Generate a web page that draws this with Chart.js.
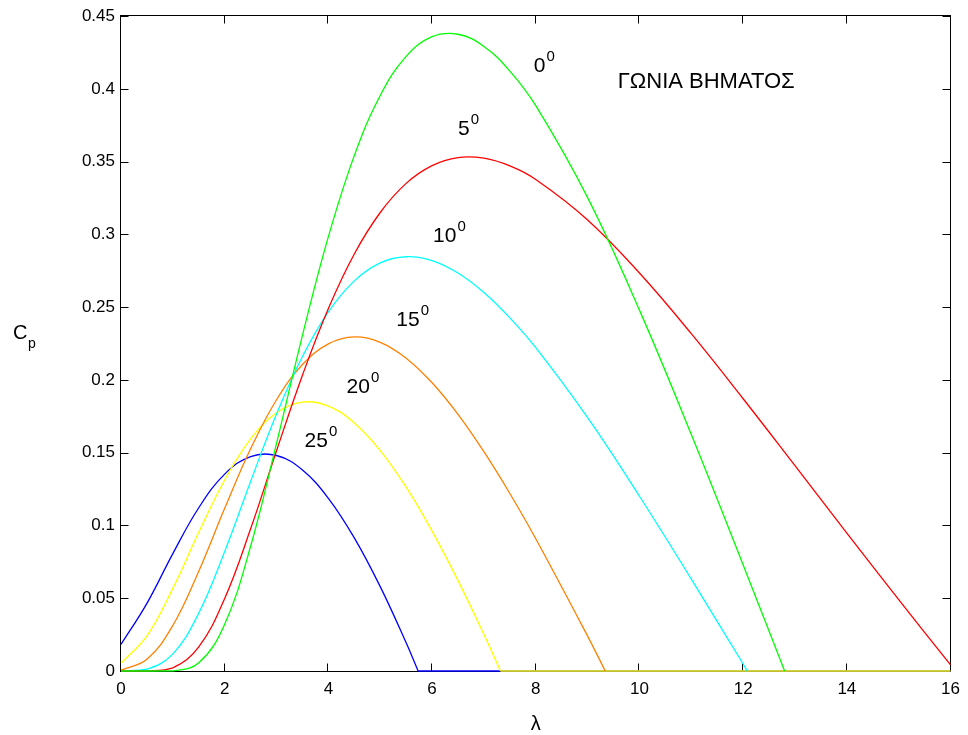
<!DOCTYPE html>
<html>
<head>
<meta charset="utf-8">
<title>Cp - λ</title>
<script src="https://cdn.jsdelivr.net/npm/chart.js@4.4.1/dist/chart.umd.min.js"></script>
<style>
  html, body { margin: 0; padding: 0; background: #fff; }
  canvas { display: block; }
</style>
</head>
<body>
<canvas id="cpChart" width="968" height="735"></canvas>
<script>
// tip speed ratio grid (λ), shared by every pitch angle
const lambdaGrid = [0, 0.5, 1, 1.5, 2, 2.5, 3, 3.5, 4, 4.5, 5, 5.5, 6, 6.5, 7, 7.5, 8, 9, 10, 11, 12, 13, 14, 15, 16];

// Cp (arrays stop before the curve reaches zero)
const cp0  = [0, 0, 0.0001, 0.0056, 0.0322, 0.0857, 0.1564, 0.2307, 0.2985, 0.3542, 0.3955, 0.4224, 0.4359, 0.4376, 0.4292, 0.4123, 0.3885, 0.3253, 0.2480, 0.1625, 0.0729];
const cp5  = [0, 0, 0.0022, 0.0166, 0.0499, 0.0977, 0.1514, 0.2033, 0.2491, 0.2866, 0.3151, 0.3351, 0.3473, 0.3528, 0.3524, 0.3471, 0.3378, 0.3100, 0.2735, 0.2318, 0.1871, 0.1411, 0.0948, 0.0490, 0.0042];
const cp10 = [0, 0.0012, 0.0118, 0.0398, 0.0822, 0.1303, 0.1766, 0.2161, 0.2468, 0.2681, 0.2805, 0.2847, 0.2821, 0.2735, 0.2601, 0.2427, 0.2222, 0.1741, 0.1201, 0.0631, 0.0048];
const cp15 = [0.0006, 0.0081, 0.0313, 0.0686, 0.1118, 0.1527, 0.1864, 0.2106, 0.2248, 0.2296, 0.2259, 0.2150, 0.1981, 0.1764, 0.1507, 0.1220, 0.0909, 0.0240];
const cp20 = [0.0053, 0.0242, 0.0568, 0.0953, 0.1313, 0.1595, 0.1775, 0.1848, 0.1821, 0.1705, 0.1515, 0.1263, 0.0961, 0.0621, 0.0251];
const cp25 = [0.0183, 0.0465, 0.0807, 0.1122, 0.1353, 0.1474, 0.1481, 0.1381, 0.1187, 0.0915, 0.0580, 0.0194];

// λ where each curve hits Cp = 0 (null = still above zero at λ = 16)
const zeroAt = [12.80, null, 12.08, 9.34, 7.32, 5.73];
// these two keep running along the λ axis after they hit zero
const flatAfterZero = [false, false, false, false, true, true];

const pitchLabels = ['0', '5', '10', '15', '20', '25'];
const lineColors = ['#00ff00', '#ff0000', '#00ffff', '#ff8000', '#ffff00', '#0000ff'];

// where the pitch-angle labels sit, in chart units
const labelLambda = [7.96, 6.50, 6.02, 5.31, 4.35, 3.54];
const labelCp = [0.4114, 0.3681, 0.2946, 0.2370, 0.1909, 0.1538];
const titleText = 'ΓΩΝΙΑ ΒΗΜΑΤΟΣ';
const titlePos = [9.58, 0.4004];

const FONT = '"Liberation Sans", Arial, Helvetica, sans-serif';

const series = [cp0, cp5, cp10, cp15, cp20, cp25];
const datasets = [];
series.forEach((cp, i) => {
  const pts = cp.map((v, k) => ({ x: lambdaGrid[k], y: v }));
  if (zeroAt[i] !== null) pts.push({ x: zeroAt[i], y: 0 });
  datasets.push({
    label: pitchLabels[i] + '°',
    data: pts,
    borderColor: lineColors[i],
    borderWidth: 1.3,
    showLine: true,
    pointRadius: 0,
    tension: 0.4,
    clip: 3,
    order: i
  });
  if (flatAfterZero[i]) {
    datasets.push({
      label: pitchLabels[i] + '° (0)',
      data: [{ x: zeroAt[i], y: 0 }, { x: 16, y: 0 }],
      borderColor: lineColors[i],
      borderWidth: 1.3,
      showLine: true,
      pointRadius: 0,
      clip: 3,
      order: i
    });
  }
});

// box round the plot with inward ticks, drawn under the curves
const frame = {
  id: 'frame',
  beforeDatasetsDraw(chart) {
    const { ctx, chartArea: a, scales: { x, y } } = chart;
    const L = Math.round(a.left) - 0.5, R = Math.round(a.right) - 0.5;
    const T = Math.round(a.top) - 0.5, B = Math.round(a.bottom) + 0.5;
    ctx.save();
    ctx.strokeStyle = '#000';
    ctx.lineWidth = 1;
    ctx.strokeRect(L, T, R - L, B - T);
    ctx.beginPath();
    x.ticks.forEach(t => {
      const px = Math.round(x.getPixelForValue(t.value)) - 0.5;
      ctx.moveTo(px, B); ctx.lineTo(px, B - 8);
      ctx.moveTo(px, T); ctx.lineTo(px, T + 8);
    });
    y.ticks.forEach(t => {
      const py = Math.round(y.getPixelForValue(t.value)) + 0.5;
      ctx.moveTo(L, py); ctx.lineTo(L + 8, py);
      ctx.moveTo(R, py); ctx.lineTo(R - 8, py);
    });
    ctx.stroke();
    ctx.restore();
  },
  afterDraw(chart) {
    const { ctx, scales: { x, y } } = chart;
    ctx.save();
    ctx.fillStyle = '#000';
    ctx.textBaseline = 'alphabetic';
    ctx.textAlign = 'left';

    // pitch angle labels with a raised 0
    pitchLabels.forEach((txt, i) => {
      const px = x.getPixelForValue(labelLambda[i]);
      const py = y.getPixelForValue(labelCp[i]);
      ctx.font = '21px ' + FONT;
      ctx.fillText(txt, px, py);
      const w = ctx.measureText(txt).width;
      ctx.font = '15px ' + FONT;
      ctx.fillText('0', px + w + 1, py - 11);
    });

    ctx.font = '22px ' + FONT;
    ctx.fillText(titleText, x.getPixelForValue(titlePos[0]), y.getPixelForValue(titlePos[1]));

    // axis names: C with subscript p, and λ
    ctx.font = '20px ' + FONT;
    ctx.fillText('C', 13, 339);
    ctx.font = '14px ' + FONT;
    ctx.fillText('p', 28, 348);

    ctx.font = '20px ' + FONT;
    ctx.textAlign = 'center';
    ctx.fillText('λ', (chart.chartArea.left + chart.chartArea.right) / 2, 730);
    ctx.restore();
  }
};

new Chart(document.getElementById('cpChart'), {
  type: 'scatter',
  data: { datasets },
  options: {
    responsive: false,
    animation: false,
    devicePixelRatio: 1,
    layout: { padding: { left: 0, right: 15, top: 15, bottom: 0 } },
    plugins: { legend: { display: false }, tooltip: { enabled: false } },
    scales: {
      x: {
        type: 'linear',
        min: 0,
        max: 16,
        afterFit: s => { s.height = 64; },
        grid: { display: false, drawTicks: false },
        border: { display: false },
        ticks: {
          stepSize: 2,
          padding: 8,
          color: '#000',
          font: { family: FONT, size: 17 }
        }
      },
      y: {
        type: 'linear',
        min: 0,
        max: 0.45,
        afterFit: s => { s.width = 121; },
        grid: { display: false, drawTicks: false },
        border: { display: false },
        ticks: {
          stepSize: 0.05,
          padding: 6,
          color: '#000',
          font: { family: FONT, size: 17 },
          callback: v => String(parseFloat(v.toFixed(2)))
        }
      }
    }
  },
  plugins: [frame]
});
</script>
</body>
</html>
